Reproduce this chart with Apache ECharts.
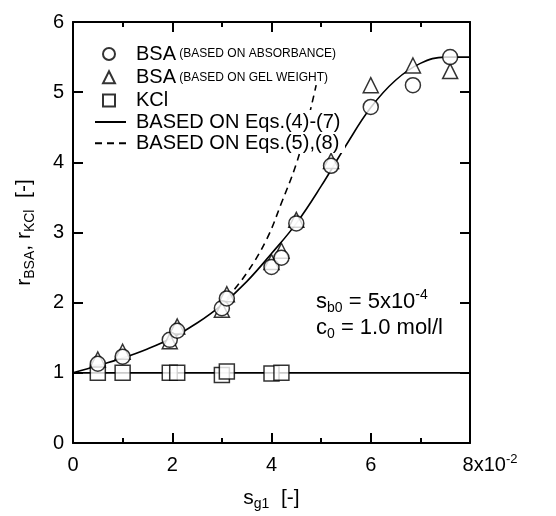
<!DOCTYPE html>
<html>
<head>
<meta charset="utf-8">
<script src="https://cdn.jsdelivr.net/npm/echarts@6/dist/echarts.min.js"></script>
<style>html,body{margin:0;padding:0;background:#fff}#c{width:556px;height:516px}</style>
</head>
<body>
<div id="c"></div>
<script>
// ---- data (x in units of 10^-2) ----
var xTicks = [0, 2, 4, 6, 8];
var yTicks = [0, 1, 2, 3, 4, 5, 6];
var bsaAbsX = [0.5, 1.0, 1.95, 2.1, 3.0, 3.1, 4.0, 4.2, 4.5, 5.2, 6.0, 6.85, 7.6];
var bsaAbsY = [1.13, 1.23, 1.47, 1.60, 1.92, 2.06, 2.51, 2.64, 3.13, 3.95, 4.79, 5.10, 5.50];
var bsaGelX = [0.5, 1.0, 1.95, 2.1, 3.0, 3.1, 4.0, 4.2, 4.5, 5.2, 6.0, 6.85, 7.6];
var bsaGelY = [1.19, 1.30, 1.45, 1.66, 1.90, 2.12, 2.58, 2.74, 3.18, 4.02, 5.10, 5.38, 5.30];
var kclX = [0.5, 1.0, 1.95, 2.1, 3.0, 3.1, 4.0, 4.2];
var kclY = [1.0, 1.0, 1.0, 1.0, 0.97, 1.02, 0.99, 1.0];
var fitX = [0, 0.5, 1, 1.5, 2, 2.5, 3, 3.5, 4, 4.5, 5, 5.5, 6, 6.5, 7, 7.5, 8];
var fitY = [1, 1.1, 1.21, 1.34, 1.5, 1.71, 1.97, 2.3, 2.7, 3.13, 3.66, 4.24, 4.78, 5.17, 5.41, 5.5, 5.5];
var kclFitX = [0, 8];
var kclFitY = [1, 1];
var dashX = [3.1, 3.5, 3.9, 4.2, 4.5, 4.7, 4.9];
var dashY = [2.06, 2.42, 2.9, 3.42, 3.98, 4.5, 5.1];

function zip(a, b) { return a.map(function (v, i) { return [v, b[i]]; }); }

var chart = echarts.init(document.getElementById('c'));
var FONT = 'Liberation Sans, Arial, sans-serif';
var mk = { color: '#fff', borderColor: '#000', borderWidth: 1.5 };

var axisCommon = {
  min: 0,
  axisLine: { show: true, onZero: false, lineStyle: { color: '#000', width: 2 } },
  splitLine: { show: false }
};
var legendRich = {
  bp: { fontSize: 20, lineHeight: 20, fontFamily: FONT, color: '#000', padding: [0, 0, 0, 16] },
  bl: { fontSize: 20, lineHeight: 22, fontFamily: FONT, color: '#000', padding: [0, 0, 0, 5] },
  s: { fontSize: 12, lineHeight: 20, fontFamily: FONT, color: '#000' }
};

chart.setOption({
  animation: false,
  backgroundColor: '#fff',
  textStyle: { fontFamily: FONT, color: '#000' },
  grid: { left: 73, right: 86, top: 22, bottom: 71, containLabel: false },
  xAxis: [
    Object.assign({}, axisCommon, {
      type: 'value', max: 8, interval: 2, position: 'bottom',
      axisTick: { inside: true, length: 10, lineStyle: { width: 2, color: '#000' } },
      minorTick: { show: true, splitNumber: 2, length: 5, lineStyle: { width: 2, color: '#000' } },
      axisLabel: {
        margin: 10, fontSize: 20, color: '#000', fontFamily: FONT,
        formatter: function (v) { return v === 8 ? '{p|}{a|8x10}{s|-2}' : '{a|' + v + '}'; },
        rich: {
          a: { fontSize: 20, lineHeight: 24, fontFamily: FONT, color: '#000' },
          s: { fontSize: 13, lineHeight: 13, verticalAlign: 'top', fontFamily: FONT, color: '#000' },
          p: { width: 40 }
        }
      },
      name: '{m|s}{sub|g1}{m|  [-]}',
      nameLocation: 'middle', nameGap: 42,
      nameTextStyle: {
        rich: {
          m: { fontSize: 21, lineHeight: 26, fontFamily: FONT, color: '#000' },
          sub: { fontSize: 14, lineHeight: 14, verticalAlign: 'bottom', fontFamily: FONT, color: '#000' }
        }
      }
    }),
    Object.assign({}, axisCommon, {
      type: 'value', max: 8, interval: 2, position: 'top',
      axisTick: { inside: true, length: 10, lineStyle: { width: 2, color: '#000' } },
      minorTick: { show: true, splitNumber: 2, length: 5, lineStyle: { width: 2, color: '#000' } },
      axisLabel: { show: false }
    })
  ],
  yAxis: [
    Object.assign({}, axisCommon, {
      type: 'value', max: 6, interval: 1, position: 'left',
      axisTick: { inside: true, length: 10, lineStyle: { width: 2, color: '#000' } },
      axisLabel: { margin: 9, fontSize: 20, color: '#000', fontFamily: FONT },
      name: '{m|r}{sub|BSA}{m|, r}{sub|KCl}{m|  [-]}',
      nameLocation: 'middle', nameGap: 36,
      nameTextStyle: {
        rich: {
          m: { fontSize: 21, lineHeight: 26, fontFamily: FONT, color: '#000' },
          sub: { fontSize: 14, lineHeight: 14, verticalAlign: 'bottom', fontFamily: FONT, color: '#000' }
        }
      }
    }),
    Object.assign({}, axisCommon, {
      type: 'value', max: 6, interval: 1, position: 'right',
      axisTick: { inside: true, length: 10, lineStyle: { width: 2, color: '#000' } },
      axisLabel: { show: false }
    })
  ],
  legend: [
    {
      orient: 'vertical', left: 97, top: 39, itemWidth: 12, itemHeight: 12, itemGap: 3.2, z: 10, zlevel: 1,
      data: [{ name: 'BSA_ABS' }, { name: 'BSA_GEL' }, { name: 'KCl' }],
      formatter: function (n) {
        if (n === 'BSA_ABS') return '{bp|BSA}{s| (BASED ON ABSORBANCE)}';
        if (n === 'BSA_GEL') return '{bp|BSA}{s| (BASED ON GEL WEIGHT)}';
        return '{bp|KCl}';
      },
      textStyle: { rich: legendRich }
    },
    {
      orient: 'vertical', left: 89, top: 107, itemWidth: 31, itemHeight: 14, itemGap: 1.2, z: 10, zlevel: 1,
      data: [
        { name: 'FIT1', itemStyle: { opacity: 0 } },
        { name: 'FIT2', itemStyle: { opacity: 0 } }
      ],
      formatter: function (n) {
        if (n === 'FIT1') return '{bl|BASED ON Eqs.(4)-(7)}';
        return '{bl|BASED ON Eqs.(5),(8)}';
      },
      textStyle: { rich: legendRich }
    }
  ],
  series: [
    { name: 'FIT1', type: 'line', data: zip(fitX, fitY), showSymbol: false, symbol: 'none',
      smooth: 0.4, itemStyle: { color: '#000' }, lineStyle: { color: '#000', width: 1.6 }, z: 2 },
    { name: 'FIT1', type: 'line', data: zip(kclFitX, kclFitY), showSymbol: false, symbol: 'none',
      itemStyle: { color: '#000' }, lineStyle: { color: '#000', width: 1.6 }, z: 2 },
    { name: 'FIT2', type: 'line', data: zip(dashX, dashY), showSymbol: false, symbol: 'none',
      smooth: 0.4, itemStyle: { color: '#000' }, lineStyle: { color: '#000', width: 1.6, type: [7, 5] }, z: 2 },
    { name: 'KCl', type: 'scatter', data: zip(kclX, kclY), symbol: 'rect', symbolSize: 15, itemStyle: mk, z: 3 },
    { name: 'BSA_GEL', type: 'scatter', data: zip(bsaGelX, bsaGelY), symbol: 'triangle', symbolSize: 15, itemStyle: mk, z: 4 },
    { name: 'BSA_ABS', type: 'scatter', data: zip(bsaAbsX, bsaAbsY), symbol: 'circle', symbolSize: 15, itemStyle: mk, z: 5 }
  ],
  graphic: [
    { type: 'rect', zlevel: 1, z: 0, shape: { x: 133, y: 110, width: 212, height: 43 }, style: { fill: '#fff' } },
    { type: 'text', left: 316, top: 288, z: 10,
      style: { text: '{m|s}{sub|b0}{m| = 5x10}{sup|-4}', fill: '#000',
        rich: {
          m: { fontSize: 22, lineHeight: 27, fontFamily: FONT, fill: '#000' },
          sub: { fontSize: 14, lineHeight: 14, verticalAlign: 'bottom', fontFamily: FONT, fill: '#000' },
          sup: { fontSize: 14, lineHeight: 14, verticalAlign: 'top', fontFamily: FONT, fill: '#000' }
        } } },
    { type: 'text', left: 316, top: 317, z: 10,
      style: { text: '{m|c}{sub|0}{m| = 1.0 mol/l}', fill: '#000',
        rich: {
          m: { fontSize: 22, lineHeight: 27, fontFamily: FONT, fill: '#000' },
          sub: { fontSize: 14, lineHeight: 14, verticalAlign: 'bottom', fontFamily: FONT, fill: '#000' }
        } } }
  ]
});
</script>
</body>
</html>
